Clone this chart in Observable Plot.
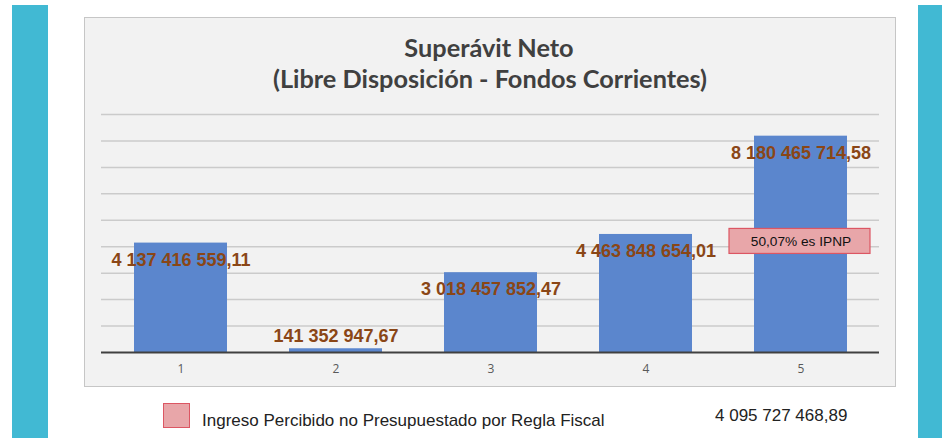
<!DOCTYPE html>
<html>
<head>
<meta charset="utf-8">
<script src="https://cdn.jsdelivr.net/npm/d3@7"></script>
<script src="https://cdn.jsdelivr.net/npm/@observablehq/plot@0.6"></script>
<style>
  html, body { margin: 0; padding: 0; background: #fff; }
  #page { position: relative; width: 942px; height: 438px; background: #fff; overflow: hidden; }
  .cyan { position: absolute; background: #41b9d3; }
  #box { position: absolute; left: 84px; top: 17px; width: 812px; height: 370px; box-sizing: border-box;
         background: #f2f2f2; border: 1.5px solid #c6c6c6; }
  #chart { position: absolute; left: 0; top: 0; }
  #overlay { position: absolute; left: 0; top: 0; }
  #swatch { position: absolute; left: 163px; top: 403px; width: 27px; height: 25px; box-sizing: border-box;
            background: #e8a6a9; border: 1.5px solid #dc5663; }
</style>
</head>
<body>
<div id="page">
  <div class="cyan" style="left:12px;top:5px;width:36px;height:433px"></div>
  <div class="cyan" style="left:918px;top:5px;width:24px;height:433px"></div>
  <div id="box"></div>
  <div id="chart"></div>
  <svg id="overlay" width="942" height="438"></svg>
  <div id="swatch"></div>
</div>
<script>
// ---- data ----
const categories = ["1", "2", "3", "4", "5"];
const values = [4137416559.11, 141352947.67, 3018457852.47, 4463848654.01, 8180465714.58];
const yGrid = [1e9, 2e9, 3e9, 4e9, 5e9, 6e9, 7e9, 8e9, 9e9];
const titleLines = ["Superávit Neto", "(Libre Disposición - Fondos Corrientes)"];
const annotationText = ["50,07% es IPNP"];
const annotationCat = ["5"];
const annotationValue = [4.2e9];
const legendLabel = "Ingreso Percibido no Presupuestado por Regla Fiscal";
const legendValue = 4095727468.89;

const locale = d3.formatLocale({decimal: ",", thousands: " ", grouping: [3], currency: ["", ""]});
const fmt = locale.format(",.2f");

const data = categories.map((c, i) => ({cat: c, value: values[i], label: fmt(values[i])}));
const annotation = annotationText.map((t, i) => ({cat: annotationCat[i], value: annotationValue[i], text: t}));
const shortLimit = 1e9;

const plot = Plot.plot({
  width: 942,
  height: 390,
  marginTop: 114,
  marginBottom: 38,
  marginLeft: 101,
  marginRight: 63,
  style: {background: "transparent", fontFamily: "'Liberation Sans', Arial, sans-serif"},
  x: {domain: categories, paddingInner: 0.4, paddingOuter: 0.2, axis: null, label: null},
  y: {domain: [0, 9e9], axis: null},
  marks: [
    Plot.ruleY(yGrid, {stroke: "#cbcbcb", strokeWidth: 1.5}),
    Plot.barY(data, {x: "cat", y: "value", fill: "#5b86cd"}),
    Plot.ruleY([0], {stroke: "#404040", strokeWidth: 2}),
    Plot.axisX({tickSize: 0, tickPadding: 12, fontSize: 12, color: "#595959", label: null,
                fontFamily: "'Open Sans', sans-serif"}),
    Plot.text(data.filter(d => d.value >= shortLimit), {x: "cat", y: "value", text: "label", dy: 17,
      fill: "#8a4616", fontSize: 18, fontWeight: "bold"}),
    Plot.text(data.filter(d => d.value < shortLimit), {x: "cat", y: "value", text: "label", dy: -13,
      fill: "#8a4616", fontSize: 18, fontWeight: "bold"}),
    Plot.rect(annotation, {x: "cat", y1: "value", y2: "value", fill: "#e8a6a9", stroke: "#dc5663",
      strokeWidth: 1.2, insetLeft: -25, insetRight: -23, insetTop: -12.5, insetBottom: -12.5}),
    Plot.text(annotation, {x: "cat", y: "value", text: "text", fontSize: 13.7, fill: "#111"})
  ]
});
document.getElementById("chart").appendChild(plot);

// ---- titles and legend (text overlay) ----
const ov = d3.select("#overlay");
ov.append("text").attr("x", 489).attr("y", 57).attr("text-anchor", "middle")
  .attr("font-family", "Lato, sans-serif").attr("font-weight", 700).attr("font-size", 25.3)
  .attr("fill", "#404040").text(titleLines[0]);
ov.append("text").attr("x", 490).attr("y", 88).attr("text-anchor", "middle")
  .attr("font-family", "Lato, sans-serif").attr("font-weight", 700).attr("font-size", 25.3)
  .attr("fill", "#404040").text(titleLines[1]);
ov.append("text").attr("x", 202).attr("y", 426)
  .attr("font-family", "'Liberation Sans', Arial, sans-serif").attr("font-size", 17)
  .attr("fill", "#222").text(legendLabel);
ov.append("text").attr("x", 715).attr("y", 421)
  .attr("font-family", "'Liberation Sans', Arial, sans-serif").attr("font-size", 17)
  .attr("fill", "#222").text(fmt(legendValue));
</script>
</body>
</html>
